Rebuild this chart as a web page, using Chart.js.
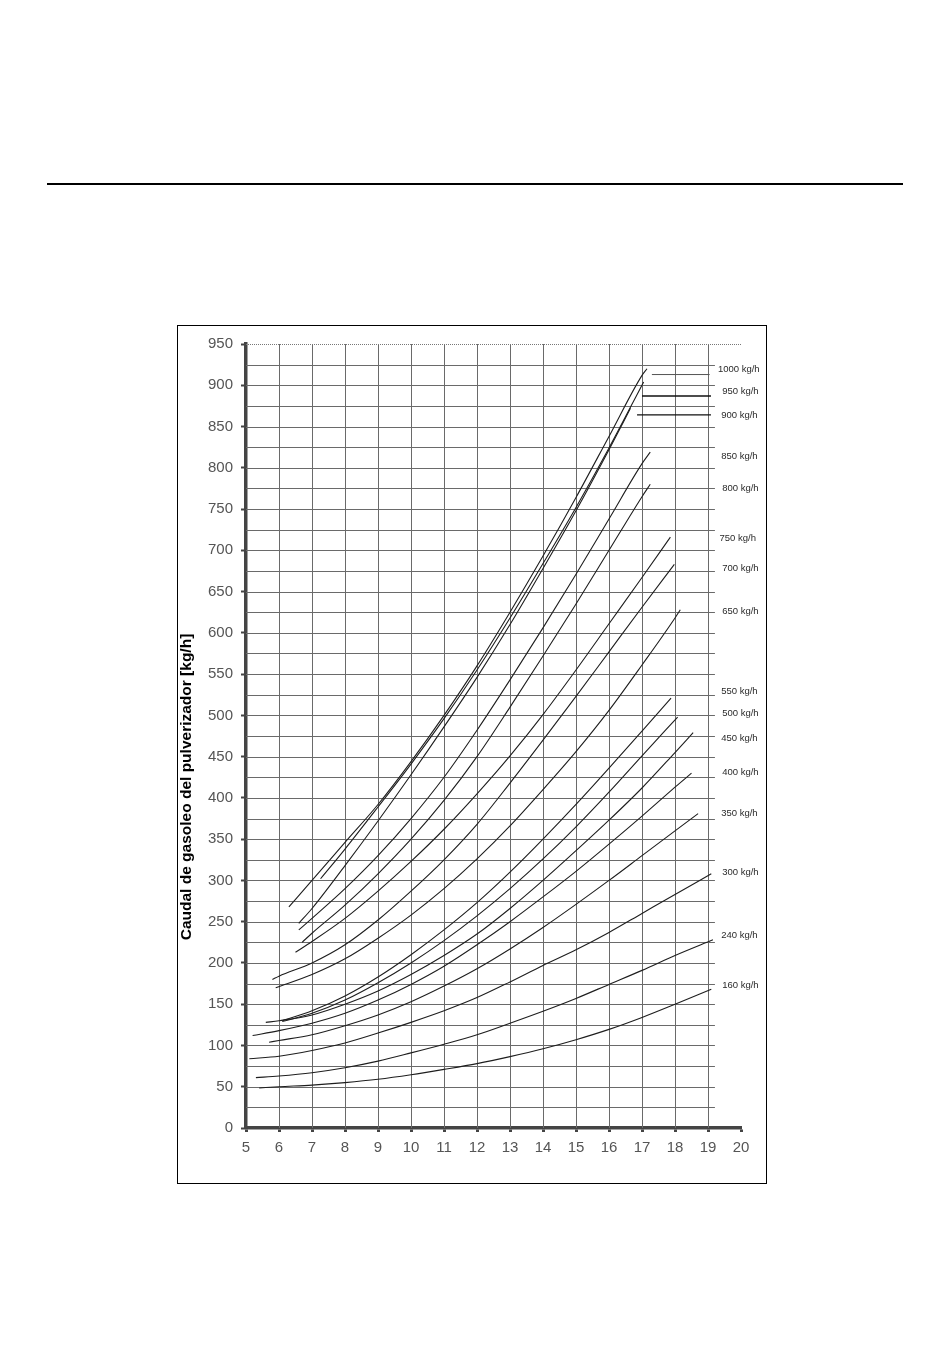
<!DOCTYPE html>
<html>
<head>
<meta charset="utf-8">
<script src="https://cdn.jsdelivr.net/npm/chart.js@4.4.1/dist/chart.umd.min.js"></script>
<style>
body { margin: 0; background: #fff; width: 950px; height: 1370px; position: relative; overflow: hidden; }
#rule { position: absolute; left: 47px; top: 183px; width: 856px; height: 2px; background: #000; }
#frame { position: absolute; left: 177px; top: 325px; width: 588px; height: 857px; border: 1px solid #000; }
#frame canvas { position: absolute; left: 0; top: 0; }
</style>
</head>
<body>
<div id="rule"></div>
<div id="frame"><canvas id="chart" width="588" height="857"></canvas></div>
<script>
// curves: [presion, caudal]
var c160 = [[5.4,48.5],[6,50],[7,52],[8,55],[9,59],[10,64.5],[11,71],[12,78],[13,86.5],[14,96],[15,107],[16,119.5],[17,134],[18,150],[19.1,168]];
var c240 = [[5.3,61],[6,63],[7,67],[8,73],[9,81],[10,91],[11,101.5],[12,113],[13,127],[14,141.5],[15,157],[16,174],[17,191],[18,209],[19.15,228]];
var c300 = [[5.1,84],[6,87],[7,94],[8,103],[9,115],[10,128],[11,142],[12,158],[13,177],[14,197],[15,216],[16,237],[17,260],[18,283],[19.1,308]];
var c350 = [[5.7,104],[6,106],[7,113],[8,124],[9,137],[10,153],[11,172],[12,193],[13,217],[14,243],[15,271],[16,300],[17,330],[18,360],[18.7,381]];
var c400 = [[5.2,112],[6,118],[7,127],[8,139],[9,155],[10,174],[11,196],[12,222],[13,250],[14,280],[15,311],[16,344],[17,378],[18,413],[18.5,430]];
var c450 = [[5.6,128],[6,130],[7,137],[8,150],[9,166],[10,186],[11,209],[12,235],[13,266],[14,300],[15,336],[16,373],[17,412],[18,455],[18.55,479]];
var c500 = [[6.1,129],[7,139],[8,155],[9,176],[10,200],[11,227],[12,257],[13,290],[14,326],[15,365],[16,407],[17,451],[18.08,498]];
var c550 = [[6.1,130],[7,142],[8,160],[9,183],[10,210],[11,240],[12,273],[13,310],[14,350],[15,392],[16,436],[17,481],[17.88,521]];
var c650 = [[5.9,170],[7,186],[8,205],[9,230],[10,258],[11,290],[12,326],[13,366],[14,410],[15,456],[16,506],[17,561],[18,618],[18.16,628]];
var c700 = [[5.8,180],[6,184],[7,200],[8,222],[9,252],[10,287],[11,325],[12,368],[13,418],[14,470],[15,523],[16,577],[17,631],[17.98,683]];
var c750 = [[6.5,213],[7,226],[8,254],[9,287],[10,323],[11,362],[12,405],[13,451],[14,501],[15,555],[16,611],[17,667],[17.86,716]];
var c800 = [[6.7,225],[7,236],[8,270],[9,308],[10,350],[11,397],[12,450],[13,510],[14,572],[15,635],[16,700],[17,765],[17.25,780]];
var c850 = [[6.6,240],[7,254],[8,290],[9,330],[10,375],[11,425],[12,482],[13,543],[14,606],[15,671],[16,738],[17,805],[17.25,819]];
var c900 = [[6.6,248],[7,266],[8,318],[9,372],[10,428],[11,486],[12,546],[13,610],[14,678],[15,748],[16,822],[16.65,872]];
var c950 = [[7.26,302],[8,338],[9,389],[10,441],[11,496],[12,555],[13,618],[14,684],[15,752],[16,824],[17.05,904]];
var c1000 = [[6.3,268],[7,300],[8,346],[9,392],[10,444],[11,500],[12,560],[13,625],[14,693],[15,764],[16,838],[17,912],[17.15,920]];

var curves = [c160, c240, c300, c350, c400, c450, c500, c550, c650, c700, c750, c800, c850, c900, c950, c1000];
var curveNames = ['160 kg/h','240 kg/h','300 kg/h','350 kg/h','400 kg/h','450 kg/h','500 kg/h','550 kg/h',
                  '650 kg/h','700 kg/h','750 kg/h','800 kg/h','850 kg/h','900 kg/h','950 kg/h','1000 kg/h'];
// where each name sits on the right margin
var nameX = [19.43,19.4,19.43,19.4,19.43,19.4,19.43,19.4,19.43,19.43,19.35,19.43,19.4,19.4,19.43,19.3];
var nameY = [173,233.6,310,381,430.5,471.7,502,528.5,626,678,715,775,814,864,892.5,919.6];
// leader lines from the top three curves
var leader900 = [[16.85,864],[19.09,864]];
var leader950 = [[17.0,887],[19.09,887]];
var leader1000 = [[17.3,913],[19.05,913]];

var xMin = 5, xMax = 20, yMin = 0, yMax = 950;

function pts(arr) {
	return arr.map(function(p) { return {x: p[0], y: p[1]}; });
}

var datasets = [];
curves.forEach(function(c, i) {
	datasets.push({
		label: curveNames[i],
		data: pts(c),
		borderColor: '#1e1e1e',
		borderWidth: 1.1,
		pointRadius: 0,
		cubicInterpolationMode: 'monotone',
		fill: false
	});
});
[leader900, leader950, leader1000].forEach(function(l, i) {
	datasets.push({
		label: 'leader' + i,
		data: pts(l),
		borderColor: i == 2 ? '#555' : '#111',
		borderWidth: i == 2 ? 1 : 1.3,
		pointRadius: 0,
		fill: false
	});
});

// the paper grid: horizontal every 25 up to 19, verticals at each unit
var paperGrid = {
	id: 'paperGrid',
	beforeDatasetsDraw: function(chart) {
		var ctx = chart.ctx, xs = chart.scales.x, ys = chart.scales.y;
		ctx.save();
		ctx.lineWidth = 1;
		ctx.strokeStyle = '#6a6a6a';
		for (var v = 25; v < yMax; v += 25) {
			var py = Math.round(ys.getPixelForValue(v)) + 0.5;
			ctx.beginPath();
			ctx.moveTo(xs.getPixelForValue(xMin), py);
			ctx.lineTo(xs.getPixelForValue(19.21), py);
			ctx.stroke();
		}
		for (var u = 6; u <= 19; u++) {
			var px = Math.round(xs.getPixelForValue(u)) + 0.5;
			ctx.beginPath();
			ctx.moveTo(px, ys.getPixelForValue(yMin));
			ctx.lineTo(px, ys.getPixelForValue(yMax));
			ctx.stroke();
		}
		var top = Math.round(ys.getPixelForValue(yMax)) + 0.5;
		ctx.setLineDash([1, 1]);
		ctx.strokeStyle = '#777';
		ctx.beginPath();
		ctx.moveTo(xs.getPixelForValue(xMin), top);
		ctx.lineTo(xs.getPixelForValue(xMax), top);
		ctx.stroke();
		ctx.restore();
	},
	afterDatasetsDraw: function(chart) {
		var ctx = chart.ctx, xs = chart.scales.x, ys = chart.scales.y;
		ctx.save();
		ctx.fillStyle = '#2a2a2a';
		ctx.font = '9.5px "Liberation Sans", Arial, sans-serif';
		ctx.textBaseline = 'middle';
		ctx.textAlign = 'left';
		curveNames.forEach(function(n, i) {
			ctx.fillText(n, xs.getPixelForValue(nameX[i]), ys.getPixelForValue(nameY[i]));
		});
		// y axis title
		ctx.fillStyle = '#000';
		ctx.font = 'bold 15.5px "Liberation Sans", Arial, sans-serif';
		ctx.textAlign = 'center';
		ctx.textBaseline = 'alphabetic';
		ctx.translate(12.5, 461);
		ctx.rotate(-Math.PI / 2);
		ctx.fillText('Caudal de gasoleo del pulverizador [kg/h]', 0, 0);
		ctx.restore();
	}
};

new Chart(document.getElementById('chart'), {
	type: 'line',
	data: { datasets: datasets },
	options: {
		responsive: false,
		animation: false,
		layout: { padding: { top: 18, right: 25, left: 0, bottom: 0 } },
		plugins: { legend: { display: false }, tooltip: { enabled: false } },
		scales: {
			x: {
				type: 'linear', min: xMin, max: xMax,
				afterFit: function(s) { s.height = 55; },
				ticks: { stepSize: 1, color: '#555', font: { family: '"Liberation Sans", Arial, sans-serif', size: 15 }, padding: 7 },
				grid: { drawOnChartArea: false, drawTicks: true, tickLength: 4, tickWidth: 3, tickColor: '#444' },
				border: { color: '#444', width: 3.5 }
			},
			y: {
				min: yMin, max: yMax,
				afterFit: function(s) { s.width = 68; },
				ticks: { stepSize: 50, color: '#555', font: { family: '"Liberation Sans", Arial, sans-serif', size: 15 }, padding: 8 },
				grid: { drawOnChartArea: false, drawTicks: true, tickLength: 5, tickWidth: 2, tickColor: '#444' },
				border: { color: '#444', width: 3.5 }
			}
		}
	},
	plugins: [paperGrid]
});
</script>
</body>
</html>
